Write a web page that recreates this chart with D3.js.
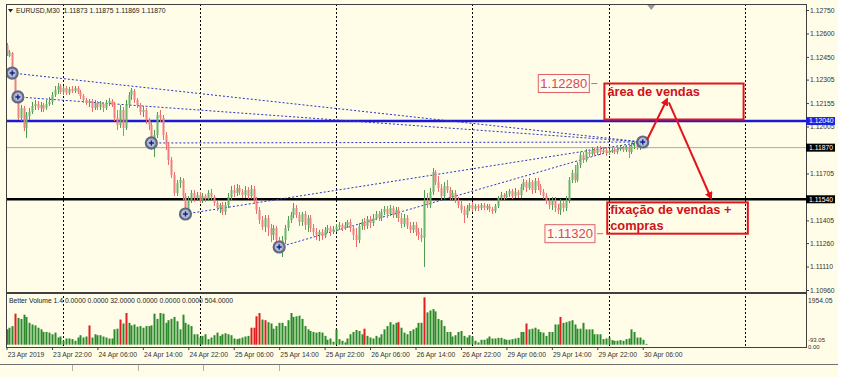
<!DOCTYPE html>
<html>

<head>
    <meta charset="UTF-8">
    <title>EURUSD,M30</title>
    <script src="https://d3js.org/d3.v7.min.js"></script>
    <style>
        body { margin: 0; background: #fffde8; }
        svg { display: block; }
        text { font-family: "Liberation Sans", Arial, sans-serif; }
    </style>
</head>

<body>

    <script>
        // M30 candles, 23 Apr 2019 14:00 -> 30 Apr 2019 06:30 : [open, high, low, close]
        var candles = [
            [1.12526, 1.12539, 1.12456, 1.12475], [1.12456, 1.12494, 1.12450, 1.12482], [1.12475, 1.12482, 1.12315, 1.12335], [1.12335, 1.12354, 1.12175, 1.12187],
            [1.12187, 1.12207, 1.12047, 1.12060], [1.12060, 1.12143, 1.12040, 1.12124], [1.12124, 1.12136, 1.11976, 1.11996], [1.11996, 1.12098, 1.11932, 1.12079],
            [1.12072, 1.12124, 1.12047, 1.12098], [1.12098, 1.12162, 1.12085, 1.12136], [1.12136, 1.12175, 1.12111, 1.12149], [1.12149, 1.12168, 1.12111, 1.12124],
            [1.12124, 1.12162, 1.12098, 1.12143], [1.12143, 1.12156, 1.12098, 1.12117], [1.12124, 1.12175, 1.12111, 1.12149], [1.12149, 1.12194, 1.12136, 1.12162],
            [1.12162, 1.12226, 1.12143, 1.12207], [1.12207, 1.12264, 1.12194, 1.12239], [1.12239, 1.12283, 1.12213, 1.12264], [1.12264, 1.12277, 1.12213, 1.12226],
            [1.12226, 1.12264, 1.12207, 1.12251], [1.12251, 1.12264, 1.12207, 1.12219], [1.12219, 1.12258, 1.12207, 1.12245], [1.12245, 1.12264, 1.12219, 1.12232],
            [1.12232, 1.12264, 1.12219, 1.12251], [1.12251, 1.12264, 1.12213, 1.12226], [1.12226, 1.12239, 1.12181, 1.12200], [1.12200, 1.12213, 1.12156, 1.12175],
            [1.12175, 1.12187, 1.12143, 1.12156], [1.12156, 1.12181, 1.12130, 1.12168], [1.12168, 1.12181, 1.12098, 1.12124], [1.12124, 1.12175, 1.12111, 1.12156],
            [1.12156, 1.12168, 1.12111, 1.12130], [1.12130, 1.12168, 1.12111, 1.12149], [1.12149, 1.12162, 1.12098, 1.12124], [1.12124, 1.12175, 1.12111, 1.12156],
            [1.12156, 1.12187, 1.12136, 1.12168], [1.12168, 1.12181, 1.12130, 1.12143], [1.12143, 1.12162, 1.12040, 1.12060], [1.12060, 1.12111, 1.11983, 1.12015],
            [1.12015, 1.12143, 1.11996, 1.12111], [1.12111, 1.12130, 1.11945, 1.11996], [1.11996, 1.12175, 1.11983, 1.12143], [1.12143, 1.12226, 1.12124, 1.12207],
            [1.12207, 1.12251, 1.12175, 1.12239], [1.12232, 1.12245, 1.12156, 1.12175], [1.12175, 1.12187, 1.12124, 1.12143], [1.12143, 1.12156, 1.12079, 1.12098],
            [1.12098, 1.12136, 1.12066, 1.12111], [1.12111, 1.12124, 1.12021, 1.12047], [1.12047, 1.12060, 1.11983, 1.12015], [1.12015, 1.12034, 1.11855, 1.11900],
            [1.11887, 1.11983, 1.11810, 1.11951], [1.11951, 1.12098, 1.11932, 1.12079], [1.12079, 1.12111, 1.12034, 1.12060], [1.12060, 1.12079, 1.11919, 1.11951],
            [1.11951, 1.11970, 1.11855, 1.11887], [1.11887, 1.11906, 1.11759, 1.11791], [1.11791, 1.11810, 1.11676, 1.11695], [1.11695, 1.11714, 1.11561, 1.11580],
            [1.11580, 1.11663, 1.11561, 1.11644], [1.11644, 1.11682, 1.11612, 1.11663], [1.11663, 1.11676, 1.11535, 1.11561], [1.11561, 1.11580, 1.11433, 1.11471],
            [1.11471, 1.11561, 1.11452, 1.11535], [1.11535, 1.11599, 1.11516, 1.11580], [1.11580, 1.11599, 1.11523, 1.11548], [1.11548, 1.11587, 1.11529, 1.11567],
            [1.11567, 1.11587, 1.11516, 1.11535], [1.11535, 1.11580, 1.11516, 1.11561], [1.11561, 1.11574, 1.11523, 1.11542], [1.11542, 1.11599, 1.11529, 1.11580],
            [1.11580, 1.11606, 1.11535, 1.11555], [1.11555, 1.11567, 1.11497, 1.11516], [1.11516, 1.11535, 1.11465, 1.11484], [1.11484, 1.11516, 1.11452, 1.11503],
            [1.11503, 1.11523, 1.11439, 1.11459], [1.11459, 1.11523, 1.11439, 1.11503], [1.11503, 1.11580, 1.11484, 1.11555], [1.11555, 1.11625, 1.11535, 1.11599],
            [1.11599, 1.11631, 1.11555, 1.11580], [1.11580, 1.11638, 1.11561, 1.11612], [1.11612, 1.11631, 1.11567, 1.11587], [1.11587, 1.11606, 1.11548, 1.11567],
            [1.11567, 1.11625, 1.11548, 1.11599], [1.11599, 1.11618, 1.11542, 1.11561], [1.11561, 1.11631, 1.11542, 1.11606], [1.11606, 1.11625, 1.11510, 1.11535],
            [1.11535, 1.11555, 1.11446, 1.11471], [1.11471, 1.11491, 1.11382, 1.11407], [1.11407, 1.11433, 1.11344, 1.11363], [1.11363, 1.11439, 1.11331, 1.11420],
            [1.11420, 1.11439, 1.11305, 1.11356], [1.11356, 1.11382, 1.11267, 1.11312], [1.11312, 1.11376, 1.11280, 1.11356], [1.11356, 1.11369, 1.11254, 1.11280],
            [1.11280, 1.11299, 1.11203, 1.11235], [1.11235, 1.11305, 1.11171, 1.11280], [1.11280, 1.11376, 1.11254, 1.11356], [1.11356, 1.11433, 1.11337, 1.11407],
            [1.11407, 1.11459, 1.11388, 1.11439], [1.11439, 1.11516, 1.11420, 1.11484], [1.11484, 1.11503, 1.11420, 1.11439], [1.11439, 1.11459, 1.11369, 1.11395],
            [1.11395, 1.11459, 1.11369, 1.11446], [1.11446, 1.11465, 1.11344, 1.11376], [1.11376, 1.11439, 1.11331, 1.11420], [1.11420, 1.11439, 1.11331, 1.11356],
            [1.11356, 1.11382, 1.11305, 1.11331], [1.11331, 1.11356, 1.11280, 1.11312], [1.11312, 1.11344, 1.11273, 1.11331], [1.11331, 1.11350, 1.11280, 1.11305],
            [1.11305, 1.11363, 1.11292, 1.11344], [1.11344, 1.11376, 1.11324, 1.11356], [1.11356, 1.11369, 1.11305, 1.11331], [1.11331, 1.11369, 1.11318, 1.11350],
            [1.11350, 1.11382, 1.11331, 1.11363], [1.11363, 1.11395, 1.11344, 1.11376], [1.11376, 1.11388, 1.11337, 1.11356], [1.11356, 1.11395, 1.11344, 1.11376],
            [1.11376, 1.11407, 1.11356, 1.11395], [1.11395, 1.11414, 1.11331, 1.11356], [1.11356, 1.11376, 1.11280, 1.11312], [1.11312, 1.11356, 1.11235, 1.11280],
            [1.11280, 1.11388, 1.11260, 1.11369], [1.11369, 1.11414, 1.11344, 1.11395], [1.11395, 1.11420, 1.11344, 1.11369], [1.11369, 1.11433, 1.11350, 1.11414],
            [1.11414, 1.11433, 1.11356, 1.11388], [1.11388, 1.11446, 1.11369, 1.11420], [1.11420, 1.11465, 1.11407, 1.11446], [1.11446, 1.11465, 1.11401, 1.11420],
            [1.11420, 1.11478, 1.11401, 1.11459], [1.11459, 1.11497, 1.11439, 1.11478], [1.11478, 1.11497, 1.11420, 1.11446], [1.11446, 1.11503, 1.11433, 1.11484],
            [1.11484, 1.11497, 1.11420, 1.11439], [1.11439, 1.11491, 1.11420, 1.11471], [1.11471, 1.11491, 1.11395, 1.11420], [1.11420, 1.11452, 1.11356, 1.11382],
            [1.11382, 1.11446, 1.11363, 1.11420], [1.11420, 1.11439, 1.11350, 1.11369], [1.11369, 1.11395, 1.11324, 1.11344], [1.11344, 1.11395, 1.11324, 1.11376],
            [1.11376, 1.11395, 1.11305, 1.11331], [1.11331, 1.11356, 1.11280, 1.11312], [1.11312, 1.11356, 1.11267, 1.11292], [1.11292, 1.11599, 1.11107, 1.11535],
            [1.11535, 1.11580, 1.11484, 1.11503], [1.11503, 1.11612, 1.11484, 1.11587], [1.11587, 1.11740, 1.11567, 1.11714], [1.11714, 1.11727, 1.11631, 1.11650],
            [1.11650, 1.11689, 1.11587, 1.11612], [1.11612, 1.11638, 1.11535, 1.11561], [1.11561, 1.11650, 1.11542, 1.11625], [1.11625, 1.11663, 1.11580, 1.11599],
            [1.11599, 1.11618, 1.11535, 1.11555], [1.11555, 1.11599, 1.11535, 1.11580], [1.11580, 1.11599, 1.11516, 1.11535], [1.11535, 1.11555, 1.11484, 1.11503],
            [1.11503, 1.11535, 1.11452, 1.11471], [1.11471, 1.11497, 1.11388, 1.11439], [1.11439, 1.11503, 1.11420, 1.11484], [1.11484, 1.11516, 1.11465, 1.11503],
            [1.11503, 1.11523, 1.11459, 1.11478], [1.11478, 1.11510, 1.11465, 1.11497], [1.11497, 1.11510, 1.11465, 1.11484], [1.11484, 1.11516, 1.11471, 1.11503],
            [1.11503, 1.11516, 1.11471, 1.11484], [1.11484, 1.11510, 1.11471, 1.11497], [1.11497, 1.11510, 1.11459, 1.11478], [1.11478, 1.11491, 1.11446, 1.11465],
            [1.11465, 1.11510, 1.11452, 1.11497], [1.11497, 1.11561, 1.11484, 1.11548], [1.11548, 1.11587, 1.11535, 1.11567], [1.11567, 1.11580, 1.11535, 1.11555],
            [1.11555, 1.11593, 1.11542, 1.11574], [1.11574, 1.11606, 1.11555, 1.11593], [1.11593, 1.11606, 1.11542, 1.11561], [1.11561, 1.11612, 1.11548, 1.11587],
            [1.11587, 1.11599, 1.11548, 1.11567], [1.11567, 1.11638, 1.11548, 1.11618], [1.11618, 1.11670, 1.11599, 1.11650], [1.11650, 1.11663, 1.11587, 1.11612],
            [1.11612, 1.11676, 1.11599, 1.11650], [1.11650, 1.11663, 1.11574, 1.11599], [1.11599, 1.11676, 1.11580, 1.11657], [1.11657, 1.11676, 1.11599, 1.11625],
            [1.11625, 1.11638, 1.11567, 1.11587], [1.11587, 1.11606, 1.11542, 1.11561], [1.11561, 1.11580, 1.11510, 1.11529], [1.11529, 1.11548, 1.11478, 1.11503],
            [1.11503, 1.11555, 1.11471, 1.11535], [1.11535, 1.11555, 1.11459, 1.11484], [1.11484, 1.11510, 1.11446, 1.11471], [1.11471, 1.11542, 1.11439, 1.11516],
            [1.11516, 1.11535, 1.11459, 1.11484], [1.11484, 1.11561, 1.11465, 1.11535], [1.11535, 1.11682, 1.11516, 1.11663], [1.11663, 1.11727, 1.11644, 1.11708],
            [1.11708, 1.11759, 1.11644, 1.11663], [1.11663, 1.11778, 1.11650, 1.11759], [1.11759, 1.11842, 1.11740, 1.11823], [1.11823, 1.11842, 1.11772, 1.11791],
            [1.11791, 1.11861, 1.11778, 1.11842], [1.11842, 1.11861, 1.11810, 1.11829], [1.11829, 1.11874, 1.11817, 1.11855], [1.11855, 1.11868, 1.11817, 1.11836],
            [1.11836, 1.11881, 1.11823, 1.11861], [1.11861, 1.11881, 1.11823, 1.11842], [1.11842, 1.11874, 1.11829, 1.11855], [1.11855, 1.11874, 1.11817, 1.11836],
            [1.11836, 1.11861, 1.11823, 1.11849], [1.11849, 1.11868, 1.11836, 1.11855], [1.11855, 1.11868, 1.11829, 1.11842], [1.11842, 1.11874, 1.11829, 1.11861],
            [1.11861, 1.11881, 1.11849, 1.11868], [1.11868, 1.11881, 1.11842, 1.11855], [1.11855, 1.11887, 1.11842, 1.11874], [1.11874, 1.11887, 1.11804, 1.11842],
            [1.11842, 1.11900, 1.11829, 1.11881], [1.11881, 1.11906, 1.11861, 1.11887], [1.11887, 1.11906, 1.11855, 1.11868], [1.11868, 1.11913, 1.11855, 1.11887],
            [1.11887, 1.11925, 1.11874, 1.11906], [1.11873, 1.11875, 1.11869, 1.11870]
        ];

        // Better Volume histogram, one value per candle
        var volumes = [
            616, 681, 747, 1245, 1074, 1035, 1205, 1114, 878, 812,
            773, 681, 616, 511, 511, 485, 419, 485, 288, 328,
            157, 249, 249, 223, 157, 288, 380, 288, 328, 773,
            288, 419, 380, 380, 328, 288, 249, 249, 616, 642,
            1009, 852, 1271, 878, 773, 812, 721, 747, 681, 747,
            747, 773, 1245, 1035, 1271, 1245, 878, 983, 1035, 1114,
            943, 616, 1205, 878, 812, 747, 419, 419, 288, 354,
            419, 223, 288, 380, 485, 354, 419, 459, 419, 380,
            249, 223, 249, 288, 328, 354, 681, 681, 1140, 1271,
            1009, 983, 904, 852, 642, 747, 878, 878, 747, 983,
            1271, 1114, 1140, 1166, 1035, 747, 616, 550, 511, 485,
            511, 485, 354, 197, 249, 118, 616, 223, 157, 92,
            249, 419, 511, 590, 550, 419, 642, 354, 288, 249,
            354, 288, 419, 616, 747, 904, 812, 878, 904, 681,
            485, 419, 550, 616, 681, 878, 878, 1900, 1297, 1376,
            1428, 1336, 1035, 983, 747, 511, 511, 328, 380, 511,
            550, 354, 288, 380, 328, 157, 92, 197, 197, 249,
            328, 249, 249, 275, 275, 223, 197, 197, 223, 249,
            275, 511, 511, 852, 616, 642, 681, 616, 511, 485,
            354, 511, 511, 812, 812, 1114, 878, 904, 943, 983,
            812, 642, 642, 878, 616, 616, 616, 419, 419, 419,
            223, 249, 288, 183, 157, 157, 183, 157, 223, 249,
            616, 511, 288, 288, 197, 32
        ];
        // candles where Better Volume paints a red (climax) bar
        var climaxBars = [3, 29, 40, 42, 86, 87, 88, 89, 91, 126, 138, 147, 183, 195];

        var timeLabelBars = [0, 16, 32, 48, 64, 80, 96, 112, 128, 144, 160, 176, 192, 208, 224];
        var timeLabels = ["23 Apr 2019", "23 Apr 22:00", "24 Apr 06:00", "24 Apr 14:00", "24 Apr 22:00",
            "25 Apr 06:00", "25 Apr 14:00", "25 Apr 22:00", "26 Apr 06:00", "26 Apr 14:00",
            "26 Apr 22:00", "29 Apr 06:00", "29 Apr 14:00", "29 Apr 22:00", "30 Apr 06:00"];
        var dayStartBars = [20, 68, 116, 164, 212, 260];
        var lastBar = 260;
        var shiftBar = 227;

        var priceMin = 1.10960, priceMax = 1.12750;
        var priceTicks = [1.12750, 1.12600, 1.12450, 1.12305, 1.12155, 1.12005, 1.11705, 1.11405, 1.11260, 1.11110, 1.10960];
        var volumeMin = -93.05, volumeMax = 1954.05;

        var header = "EURUSD,M30  1.11873 1.11875 1.11869 1.11870";
        var volumeHeader = "Better Volume 1.4 0.0000 0.0000 32.0000 0.0000 0.0000 0.0000 504.0000";

        // horizontal lines drawn on the chart
        var bluePrice = 1.12040;
        var blackPrice = 1.11540;
        var bidPrice = 1.11870;

        // circled points, joined to the last one by dotted trend lines
        var pivotBars = [2, 4, 51, 63, 96, 224];
        var pivotPrices = [1.12347, 1.12194, 1.11900, 1.11446, 1.11235, 1.11906];

        // price labels (left price labels)
        var labelBars = [208, 210];
        var labelPrices = [1.12280, 1.11320];

        // red rectangles with notes
        var zoneBars = [[210.5, 259.5], [211.5, 261]];
        var zonePrices = [[1.12280, 1.12050], [1.11520, 1.11320]];
        var zoneTexts = [["área de vendas"], ["fixação de vendas +", "compras"]];

        // red arrows: [from, to] as [bar, price]
        var arrowPaths = [
            [[225.5, 1.11919], [232.6, 1.12181]],
            [[233.2, 1.12160], [248.1, 1.11545]]
        ];

        document.addEventListener("DOMContentLoaded", function () {
            drawChart();
        });

        function drawChart() {
            var width = 851, height = 377;
            var left = 6, right = 806;
            var top = 4, priceBottom = 293, volTop = 294, volBottom = 347;
            var bg = "#fffde8";

            var svg = d3.select("body").append("svg")
                .attr("width", width)
                .attr("height", height);

            svg.append("rect").attr("width", width).attr("height", height).attr("fill", bg);
            svg.append("rect").attr("x", 838).attr("width", width - 838).attr("height", height).attr("fill", "#ffffff");

            var x = d3.scaleLinear().domain([0, lastBar]).range([6.5, 745]);
            var y = d3.scaleLinear().domain([priceMin, priceMax]).range([290, 10]);
            var yVol = d3.scaleLinear().domain([volumeMin, volumeMax]).range([volBottom, 296]);

            var defs = svg.append("defs");
            defs.append("clipPath").attr("id", "clip-price").append("rect")
                .attr("x", left).attr("y", top).attr("width", right - left).attr("height", priceBottom - top);
            defs.append("clipPath").attr("id", "clip-vol").append("rect")
                .attr("x", left).attr("y", volTop).attr("width", right - left).attr("height", volBottom - volTop);
            defs.append("marker").attr("id", "arrow")
                .attr("viewBox", "0 0 10 10").attr("refX", 8).attr("refY", 5)
                .attr("markerWidth", 4).attr("markerHeight", 4).attr("orient", "auto")
                .append("path").attr("d", "M0,0L10,5L0,10z").attr("fill", "#e3141c");

            // day separators (dotted)
            svg.append("g").selectAll("line").data(dayStartBars).join("line")
                .attr("x1", function (d) { return Math.round(x(d)) + 0.5; })
                .attr("x2", function (d) { return Math.round(x(d)) + 0.5; })
                .attr("y1", top).attr("y2", volBottom)
                .attr("stroke", "#000").attr("stroke-dasharray", "2,2").attr("stroke-width", 1);

            var price = svg.append("g").attr("clip-path", "url(#clip-price)");

            // bid line + the two levels
            price.append("line").attr("x1", left).attr("x2", right)
                .attr("y1", y(bidPrice)).attr("y2", y(bidPrice))
                .attr("stroke", "#a8a8a8").attr("stroke-width", 1);
            price.append("line").attr("x1", left).attr("x2", right)
                .attr("y1", y(bluePrice)).attr("y2", y(bluePrice))
                .attr("stroke", "#1a1ad2").attr("stroke-width", 2.5);
            price.append("line").attr("x1", left).attr("x2", right)
                .attr("y1", y(blackPrice)).attr("y2", y(blackPrice))
                .attr("stroke", "#000").attr("stroke-width", 2.5);

            // dotted trend lines from each pivot to the last one
            var last = pivotBars.length - 1;
            price.append("g").selectAll("line").data(pivotBars.slice(0, last)).join("line")
                .attr("x1", function (d) { return x(d); })
                .attr("y1", function (d, i) { return y(pivotPrices[i]); })
                .attr("x2", x(pivotBars[last]))
                .attr("y2", y(pivotPrices[last]))
                .attr("stroke", "#2b35c4").attr("stroke-width", 1).attr("stroke-dasharray", "2,2");

            // candles
            var c = price.append("g").selectAll("g").data(candles).join("g");
            c.append("line")
                .attr("x1", function (d, i) { return Math.round(x(i)) + 0.5; })
                .attr("x2", function (d, i) { return Math.round(x(i)) + 0.5; })
                .attr("y1", function (d) { return y(d[1]); })
                .attr("y2", function (d) { return y(d[2]); })
                .attr("stroke", function (d) { return d[3] >= d[0] ? "#4e9c4e" : "#ea6c6c"; })
                .attr("stroke-width", 1);
            c.append("rect")
                .attr("x", function (d, i) { return Math.round(x(i)) - 0.5; })
                .attr("width", 2)
                .attr("y", function (d) { return y(Math.max(d[0], d[3])); })
                .attr("height", function (d) { return Math.max(1, Math.abs(y(d[0]) - y(d[3]))); })
                .attr("fill", function (d) { return d[3] >= d[0] ? "#6cb46c" : "#ef8080"; });

            // circled points
            var p = price.append("g").selectAll("g").data(pivotBars).join("g")
                .attr("transform", function (d, i) { return "translate(" + x(d) + "," + y(pivotPrices[i]) + ")"; });
            p.append("circle").attr("r", 5.5)
                .attr("fill", "#a9b2c6").attr("stroke", "#5f6a86").attr("stroke-width", 2.2).attr("fill-opacity", 0.85);
            p.append("path").attr("d", "M-2.5,0H2.5M0,-2.5V2.5")
                .attr("stroke", "#1020b0").attr("stroke-width", 1.4);

            // red rectangles with text
            zoneBars.forEach(function (b, k) {
                var x0 = x(b[0]), x1 = x(b[1]);
                var y0 = y(zonePrices[k][0]), y1 = y(zonePrices[k][1]);
                svg.append("rect").attr("x", x0).attr("y", y0)
                    .attr("width", x1 - x0).attr("height", y1 - y0)
                    .attr("fill", "none").attr("stroke", "#e3141c").attr("stroke-width", 2);
                zoneTexts[k].forEach(function (t, j) {
                    svg.append("text").attr("x", x0 + 3).attr("y", y0 + 12 + j * 16)
                        .attr("font-size", "12.8px").attr("font-weight", "bold")
                        .attr("fill", "#d0121a").text(t);
                });
            });

            // arrows
            arrowPaths.forEach(function (a) {
                svg.append("line")
                    .attr("x1", x(a[0][0])).attr("y1", y(a[0][1]))
                    .attr("x2", x(a[1][0])).attr("y2", y(a[1][1]))
                    .attr("stroke", "#e3141c").attr("stroke-width", 2)
                    .attr("marker-end", "url(#arrow)");
            });

            // left price labels
            labelBars.forEach(function (b, k) {
                var ax = x(b), ay = y(labelPrices[k]);
                var g = svg.append("g");
                var t = g.append("text").attr("x", ax - 10).attr("y", ay).attr("dy", "0.36em")
                    .attr("text-anchor", "end").attr("font-size", "13px")
                    .attr("fill", "#d84a4a").text(labelPrices[k].toFixed(5));
                var bb = t.node().getBBox();
                g.insert("rect", "text").attr("x", bb.x - 2).attr("y", ay - 9)
                    .attr("width", bb.width + 4).attr("height", 18)
                    .attr("fill", "#fffaf2").attr("stroke", "#e06060").attr("stroke-width", 1);
                g.append("line").attr("x1", ax - 6).attr("x2", ax).attr("y1", ay).attr("y2", ay)
                    .attr("stroke", "#e06060").attr("stroke-width", 1);
            });

            // volume histogram
            svg.append("g").attr("clip-path", "url(#clip-vol)")
                .selectAll("rect").data(volumes).join("rect")
                .attr("x", function (d, i) { return Math.round(x(i)) - 0.5; })
                .attr("width", 2)
                .attr("y", function (d) { return yVol(d); })
                .attr("height", function (d) { return yVol(0) - yVol(d); })
                .attr("fill", function (d, i) { return climaxBars.indexOf(i) >= 0 ? "#e01e1e" : "#2a8a2a"; });

            // frame
            var frame = svg.append("g").attr("fill", "none").attr("stroke", "#404040").attr("shape-rendering", "crispEdges");
            frame.append("rect").attr("x", left).attr("y", top).attr("width", right - left).attr("height", volBottom - top);
            frame.append("line").attr("x1", left).attr("x2", right).attr("y1", priceBottom).attr("y2", priceBottom).attr("stroke-width", 2);
            frame.append("line").attr("x1", 0).attr("x2", 838).attr("y1", 364.5).attr("y2", 364.5).attr("stroke", "#707070");
            [72, 138, 203, 279].forEach(function (tx) {
                frame.append("line").attr("x1", tx).attr("x2", tx).attr("y1", 365).attr("y2", 371).attr("stroke", "#b0b0b0");
            });

            // chart shift marker
            svg.append("path")
                .attr("d", "M" + (x(shiftBar) - 4) + "," + (top + 1) + "h8l-4,5z")
                .attr("fill", "#9a9a9a");

            // headers
            svg.append("path").attr("d", "M8,9h5l-2.5,3.5z").attr("fill", "#222");
            svg.append("text").attr("x", 16).attr("y", 11).attr("dy", "0.35em")
                .attr("font-size", "6.8px").attr("fill", "#222").attr("xml:space", "preserve").text(header);
            svg.append("text").attr("x", 9).attr("y", 301).attr("dy", "0.35em")
                .attr("font-size", "6.8px").attr("fill", "#222").text(volumeHeader);

            // price axis
            var priceAxis = svg.append("g")
                .attr("transform", "translate(" + right + ",0)")
                .call(d3.axisRight(y).tickValues(priceTicks).tickSize(3).tickPadding(1).tickFormat(d3.format(".5f")));
            priceAxis.select(".domain").remove();
            priceAxis.selectAll("text").attr("font-size", "6.8px").attr("font-family", "Liberation Sans").attr("fill", "#333");
            priceAxis.selectAll("line").attr("stroke", "#404040");

            // highlighted level labels on the axis
            [[bluePrice, "#2020e0"], [bidPrice, "#000"], [blackPrice, "#000"]].forEach(function (lv) {
                var yy = y(lv[0]);
                svg.append("rect").attr("x", right).attr("y", yy - 4).attr("width", 29).attr("height", 8).attr("fill", lv[1]);
                svg.append("text").attr("x", right + 3).attr("y", yy).attr("dy", "0.35em")
                    .attr("font-size", "6.8px").attr("fill", "#fff").text(lv[0].toFixed(5));
            });

            // volume axis labels
            var volAxis = svg.append("g")
                .attr("transform", "translate(" + right + ",0)")
                .call(d3.axisRight(yVol).tickValues([volumeMax]).tickSize(0).tickPadding(2).tickFormat(d3.format(".2f")));
            volAxis.select(".domain").remove();
            volAxis.selectAll("text").attr("font-size", "6.8px").attr("font-family", "Liberation Sans").attr("fill", "#333").attr("dy", "0.9em");
            // the min and zero labels sit almost on top of each other; keep them just apart
            svg.append("text").attr("x", right + 2).attr("y", yVol(0) - 5).attr("dy", "0.35em")
                .attr("font-size", "6px").attr("fill", "#333").text(volumeMin.toFixed(2));
            svg.append("text").attr("x", right + 2).attr("y", yVol(0) + 2.5).attr("dy", "0.35em")
                .attr("font-size", "6px").attr("fill", "#333").text((0).toFixed(2));

            // time axis
            var timeAxis = svg.append("g")
                .attr("transform", "translate(0," + volBottom + ")")
                .call(d3.axisBottom(x).tickValues(timeLabelBars).tickSize(3).tickPadding(2)
                    .tickFormat(function (d, i) { return timeLabels[i]; }));
            timeAxis.select(".domain").remove();
            timeAxis.selectAll("line").attr("stroke", "#404040");
            timeAxis.selectAll("text").attr("text-anchor", "start").attr("dx", "0.1em")
                .attr("font-size", "6.8px").attr("font-family", "Liberation Sans").attr("fill", "#333");
        }
    </script>
</body>

</html>
